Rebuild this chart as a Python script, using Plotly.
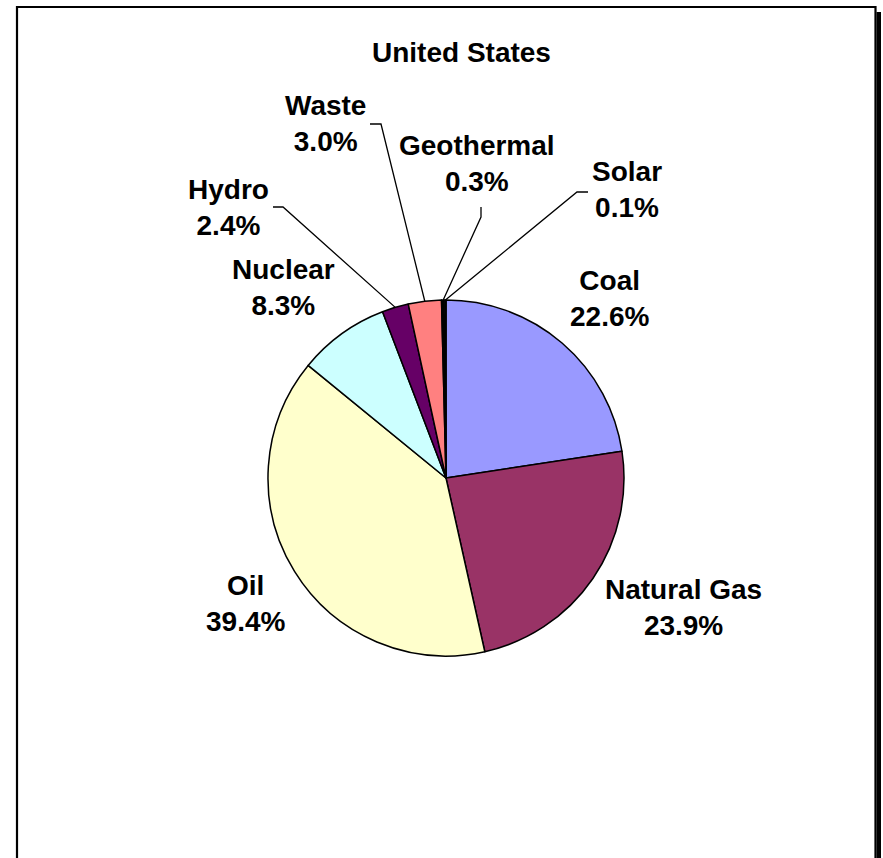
import math
import plotly.graph_objects as go

W, H = 883, 858

# ---- data ----
sources = ["Coal", "Natural Gas", "Oil", "Nuclear", "Hydro", "Waste", "Geothermal", "Solar"]
shares = [22.6, 23.9, 39.4, 8.3, 2.4, 3.0, 0.3, 0.1]
colors = ["#9999FF", "#993366", "#FFFFCC", "#CCFFFF", "#660066", "#FF8080", "#000000", "#CCCCFF"]
title_text = "United States"

# ---- layout (pixels) ----
CX, CY, R = 446, 478, 178
label_pos = {
    "Coal": (609, 298),
    "Natural Gas": (683, 607),
    "Oil": (246, 603),
    "Nuclear": (283, 288),
    "Hydro": (228, 207),
    "Waste": (325, 124),
    "Geothermal": (477, 164),
    "Solar": (627, 190),
}
# leader line paths from label side (pixel points), ending at the slice edge
leader_start = {
    "Hydro": [(273, 207), (283, 207)],
    "Waste": [(370, 124), (381, 124)],
    "Geothermal": [(481, 207), (481, 217)],
    "Solar": [(588, 192), (577, 192)],
}


def px(x):
    return x / W


def py(y):
    return 1 - y / H


fig = go.Figure(go.Pie(
    labels=sources,
    values=shares,
    sort=False,
    direction="clockwise",
    rotation=0,
    textinfo="none",
    hoverinfo="label+percent",
    marker=dict(colors=colors, line=dict(color="black", width=1.5)),
    domain=dict(x=[px(CX - R), px(CX + R)], y=[py(CY + R), py(CY - R)]),
    showlegend=False,
))

font_family = "Arial, Liberation Sans, sans-serif"
annotations = [dict(
    x=px(461), y=py(53), xref="paper", yref="paper", text="<b>%s</b>" % title_text,
    showarrow=False, font=dict(family=font_family, size=28, color="black"),
    xanchor="center", yanchor="middle")]

total = sum(shares)
cum = 0.0
shapes = []
for name, v in zip(sources, shares):
    mid = (cum + v / 2) / total
    cum += v
    lx, ly = label_pos[name]
    annotations.append(dict(
        x=px(lx), y=py(ly), xref="paper", yref="paper",
        text="<b>%s<br>%.1f%%</b>" % (name, v),
        showarrow=False, font=dict(family=font_family, size=28, color="black"),
        xanchor="center", yanchor="middle", align="center"))
    if name in leader_start:
        ang = 2 * math.pi * mid
        ex = CX + R * math.sin(ang)
        ey = CY - R * math.cos(ang)
        pts = leader_start[name] + [(ex, ey)]
        path = "M " + " L ".join("%f,%f" % (px(a), py(b)) for a, b in pts)
        shapes.append(dict(type="path", path=path, xref="paper", yref="paper",
                           line=dict(color="black", width=1.3)))

# chart frame with shadow
shapes.append(dict(type="rect", xref="paper", yref="paper",
                   x0=px(876.5), x1=px(881), y0=py(12), y1=py(870),
                   fillcolor="black", line=dict(width=0)))
shapes.append(dict(type="rect", xref="paper", yref="paper",
                   x0=px(17), x1=px(875.5), y0=py(7), y1=py(870),
                   fillcolor="rgba(0,0,0,0)", line=dict(color="black", width=2.2)))

fig.update_layout(
    width=W, height=H,
    margin=dict(l=0, r=0, t=0, b=0),
    paper_bgcolor="white", plot_bgcolor="white",
    annotations=annotations, shapes=shapes,
)

fig.write_html(
    "out.html",
    config={"displayModeBar": False},
    post_script="document.body.style.margin='0';document.body.style.overflow='hidden';",
)
